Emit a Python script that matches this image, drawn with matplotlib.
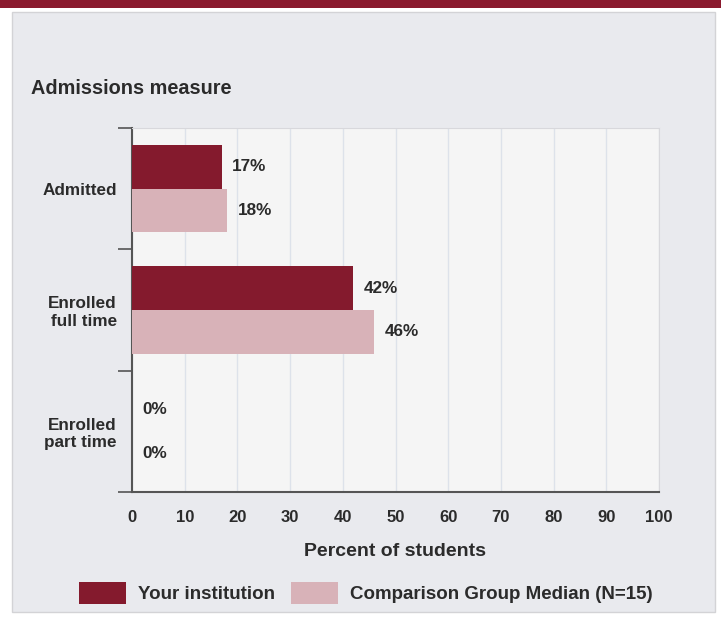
import matplotlib.pyplot as plt
from matplotlib.patches import Patch, Rectangle
import numpy as np

# %% Data

categories = ['Admitted', 'Enrolled\nfull time', 'Enrolled\npart time']
institution = [17, 42, 0]
comparison = [18, 46, 0]
series_names = ['Your institution', 'Comparison Group Median (N=15)']

dark = '#841a2d'
light = '#d8b2b8'
txt = '#2b2b2b'

plt.rcParams['font.family'] = ['Liberation Sans', 'DejaVu Sans']
plt.rcParams['font.weight'] = 'bold'

# %% Figure and panel

fig = plt.figure(figsize=(7.21, 6.18), dpi=100)
fig.patch.set_facecolor('white')
fig.add_artist(Rectangle((0, 1 - 8 / 618), 1, 8 / 618, transform=fig.transFigure,
                         facecolor='#8a1a2e', edgecolor='none', zorder=-10))
fig.add_artist(Rectangle((12 / 721, 6 / 618), 703 / 721, 600 / 618,
                         transform=fig.transFigure, facecolor='#e9eaee',
                         edgecolor='#d3d3d6', lw=1, zorder=-10))
fig.text(31 / 721, 1 - 89 / 618, 'Admissions measure', fontsize=14.3,
         fontweight='bold', color=txt, va='center')

ax = fig.add_axes([132 / 721, 1 - 492 / 618, 527 / 721, 364 / 618])
ax.set_facecolor('#f5f5f5')

y = np.arange(len(categories))
h = 0.36
ax.barh(y - h / 2, institution, height=h, color=dark, zorder=3)
ax.barh(y + h / 2, comparison, height=h, color=light, zorder=3)

# value labels next to each bar
for yi, v in zip(y, institution):
    ax.text(v + 2, yi - h / 2, f'{v}%', va='center', ha='left',
            fontsize=12.3, color=txt)
for yi, v in zip(y, comparison):
    ax.text(v + 2, yi + h / 2, f'{v}%', va='center', ha='left',
            fontsize=12.3, color=txt)

# %% Axes styling

ax.set_xlim(0, 100)
ax.set_ylim(2.5, -0.5)
ax.set_xticks(np.arange(0, 101, 10))
ax.tick_params(axis='x', length=0, pad=13, labelsize=12, labelcolor=txt)
ax.set_yticks([-0.5, 0.5, 1.5, 2.5])
ax.set_yticklabels([])
ax.tick_params(axis='y', which='major', length=10, width=1.2, color='#555555')
ax.set_yticks(y, minor=True)
ax.set_yticklabels(categories, minor=True)
ax.tick_params(axis='y', which='minor', length=0, pad=11, labelsize=12.3,
               labelcolor=txt)
ax.grid(axis='x', color='#dde2ea', lw=1, zorder=0)

for s in ['top', 'right']:
    ax.spines[s].set_color('#d8d8dc')
for s in ['left', 'bottom']:
    ax.spines[s].set_color('#555555')
    ax.spines[s].set_linewidth(1.5)

ax.set_xlabel('Percent of students', fontsize=14, fontweight='bold', color=txt,
              labelpad=13)

handles = [Patch(facecolor=dark), Patch(facecolor=light)]
fig.legend(handles, series_names, loc='center', bbox_to_anchor=(366 / 721, 1 - 593 / 618),
           ncol=2, frameon=False, fontsize=13.5, handlelength=2.5, handleheight=1.5,
           columnspacing=0.85, handletextpad=0.64, labelcolor=txt)

fig.savefig('out.png', dpi=100)
